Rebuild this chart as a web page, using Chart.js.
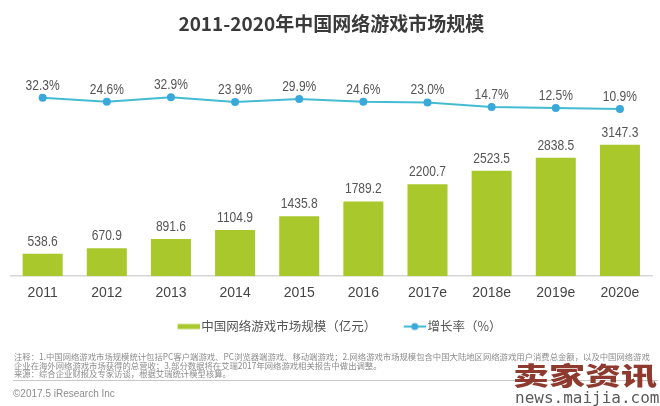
<!DOCTYPE html>
<html>
<head>
<meta charset="utf-8">
<script src="https://cdn.jsdelivr.net/npm/chart.js@4/dist/chart.umd.min.js"></script>
<style>
  html, body { margin: 0; padding: 0; background: #fff; }
  #wrap { position: relative; width: 660px; height: 406px; overflow: hidden; background: #fff; }
  #c { position: absolute; left: 0; top: 0; }
  .note { position: absolute; left: 14px; font-family: "Noto Sans CJK SC", sans-serif; font-size: 8.5px; line-height: 9px; color: #8c8c8c; white-space: nowrap; transform-origin: left center; }
  #rule { position: absolute; left: 13px; width: 645px; top: 380px; height: 1px; background: #c8c8c8; }
  #copy { position: absolute; left: 13px; top: 388px; font-family: "Liberation Sans", sans-serif; font-size: 10px; line-height: 12px; color: #8c8c8c; white-space: nowrap; }
  #wm1 { position: absolute; left: 513px; top: 352px; font-family: "Noto Sans CJK SC", sans-serif; font-weight: 900; font-size: 36px; line-height: 44px; color: #8e3a2f; white-space: nowrap; transform: scaleY(0.68); transform-origin: left center; }
  #wm2 { position: absolute; left: 515px; top: 389px; font-family: "DejaVu Sans Mono", monospace; font-size: 16px; line-height: 18px; color: #5a5a5a; white-space: nowrap; }
</style>
</head>
<body>
<div id="wrap">
  <canvas id="c" width="660" height="406"></canvas>
  <div class="note" id="n1"></div>
  <div class="note" id="n2"></div>
  <div class="note" id="n3"></div>
  <div id="rule"></div>
  <div id="copy"></div>
  <div id="wm1"></div>
  <div id="wm2"></div>
</div>
<script>
// ---- data ----
const chartTitle = '2011-2020年中国网络游戏市场规模';
const categories = ['2011', '2012', '2013', '2014', '2015', '2016', '2017e', '2018e', '2019e', '2020e'];
const marketSize = [538.6, 670.9, 891.6, 1104.9, 1435.8, 1789.2, 2200.7, 2523.5, 2838.5, 3147.3];
const growthRate = [32.3, 24.6, 32.9, 23.9, 29.9, 24.6, 23.0, 14.7, 12.5, 10.9];
const seriesNames = ['中国网络游戏市场规模（亿元）', '增长率（%）'];
const noteLines = [
  '注释：1.中国网络游戏市场规模统计包括PC客户端游戏、PC浏览器端游戏、移动端游戏；2.网络游戏市场规模包含中国大陆地区网络游戏用户消费总金额，以及中国网络游戏',
  '企业在海外网络游戏市场获得的总营收；3.部分数据将在艾瑞2017年网络游戏相关报告中做出调整。',
  '来源：综合企业财报及专家访谈，根据艾瑞统计模型核算。'
];
const copyrightText = '©2017.5 iResearch Inc';
const watermarkTitle = '卖家资讯';
const watermarkUrl = 'news.maijia.com';

// ---- styles ----
const BAR_COLOR = '#a8c82c';
const LINE_COLOR = '#45bbd2';
const POINT_COLOR = '#3aa8d8';
const NUM_FONT = '"Liberation Sans", Arial, sans-serif';
const CJK_FONT = '"Noto Sans CJK SC", sans-serif';

// footnotes
['n1', 'n2', 'n3'].forEach((id, i) => { document.getElementById(id).textContent = noteLines[i]; });
document.getElementById('n1').style.top = '351.5px';
document.getElementById('n2').style.top = '360.5px';
document.getElementById('n3').style.top = '369px';
document.getElementById('copy').textContent = copyrightText;
document.getElementById('wm1').textContent = watermarkTitle;
document.getElementById('wm2').textContent = watermarkUrl;
const n1w = document.getElementById('n1').offsetWidth;
const sx = 636 / n1w;
['n1', 'n2', 'n3'].forEach(id => { document.getElementById(id).style.transform = 'scaleX(' + sx + ')'; });

// legend symbols
function makeSymbol(kind) {
  const c = document.createElement('canvas');
  c.width = 43; c.height = 12;
  const g = c.getContext('2d');
  if (kind === 'bar') {
    g.fillStyle = BAR_COLOR;
    g.fillRect(21, 3.5, 22, 5);
  } else {
    g.strokeStyle = LINE_COLOR; g.lineWidth = 2;
    g.beginPath(); g.moveTo(21, 6); g.lineTo(43, 6); g.stroke();
    g.fillStyle = POINT_COLOR;
    g.beginPath(); g.arc(32, 6, 3.5, 0, Math.PI * 2); g.fill();
  }
  return c;
}
const symbols = [makeSymbol('bar'), makeSymbol('line')];

function drawNarrow(ctx, text, x, y) {
  ctx.save();
  ctx.translate(x, y);
  ctx.scale(0.86, 1);
  ctx.fillText(text, 0, 0);
  ctx.restore();
}

const valueLabels = {
  id: 'valueLabels',
  afterDatasetsDraw(chart) {
    const ctx = chart.ctx;
    ctx.save();
    ctx.textAlign = 'center';
    ctx.textBaseline = 'middle';
    ctx.fillStyle = '#555';
    ctx.font = '14px ' + NUM_FONT;
    chart.getDatasetMeta(1).data.forEach((el, i) => {
      drawNarrow(ctx, marketSize[i].toFixed(1), el.x, el.y - 12);
    });
    chart.getDatasetMeta(0).data.forEach((el, i) => {
      drawNarrow(ctx, growthRate[i].toFixed(1) + '%', el.x, el.y - 12);
    });
    ctx.restore();
  }
};

new Chart(document.getElementById('c'), {
  data: {
    labels: categories,
    datasets: [
      {
        type: 'line',
        label: seriesNames[1],
        data: growthRate,
        yAxisID: 'yRate',
        borderColor: LINE_COLOR,
        backgroundColor: POINT_COLOR,
        borderWidth: 2,
        pointRadius: 4,
        pointBackgroundColor: POINT_COLOR,
        pointBorderWidth: 0,
        tension: 0,
        order: 0
      },
      {
        type: 'bar',
        label: seriesNames[0],
        data: marketSize,
        yAxisID: 'ySize',
        backgroundColor: BAR_COLOR,
        borderWidth: 0,
        categoryPercentage: 1,
        barPercentage: 0.624,
        order: 1
      }
    ]
  },
  options: {
    responsive: false,
    animation: false,
    devicePixelRatio: 1,
    layout: { padding: { left: 10.6, right: 8, top: 0, bottom: 63.2 } },
    plugins: {
      title: {
        display: true,
        text: chartTitle,
        color: '#3a3a3a',
        font: { family: CJK_FONT, size: 19, weight: 'bold' },
        padding: { top: 12, bottom: 10 }
      },
      legend: {
        position: 'bottom',
        labels: {
          usePointStyle: true,
          pointStyleWidth: 34,
          padding: 10.9,
          color: '#555',
          font: { family: CJK_FONT, size: 12.5 },
          sort: (a, b) => b.datasetIndex - a.datasetIndex,
          generateLabels(chart) {
            const items = Chart.defaults.plugins.legend.labels.generateLabels(chart);
            items.forEach(it => {
              it.pointStyle = it.datasetIndex === 1 ? symbols[0] : symbols[1];
              it.lineWidth = 0;
            });
            return items;
          }
        }
      },
      tooltip: { enabled: false }
    },
    scales: {
      x: {
        offset: true,
        grid: { display: false, drawTicks: false, tickLength: 0 },
        border: { display: true, color: '#d6d6d6', width: 1.5 },
        ticks: { color: '#454545', padding: 8.2, font: { family: NUM_FONT, size: 14 } }
      },
      ySize: {
        display: false,
        position: 'left',
        min: 0,
        max: 5541
      },
      yRate: {
        display: false,
        position: 'right',
        min: -306.6,
        max: 132.6
      }
    }
  },
  plugins: [valueLabels]
});
</script>
</body>
</html>
